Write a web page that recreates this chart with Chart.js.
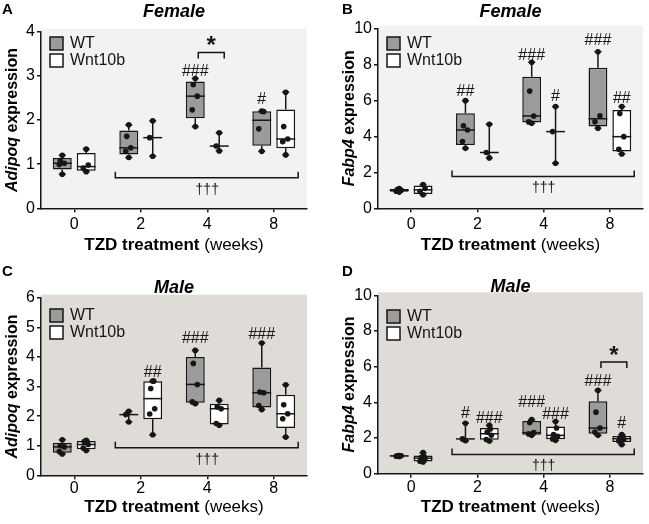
<!DOCTYPE html>
<html>
<head>
<meta charset="utf-8">
<script src="https://cdn.jsdelivr.net/npm/chart.js@4.4.1/dist/chart.umd.min.js"></script>
<style>
  body { margin: 0; background: #fff; }
  #wrap { position: relative; width: 649px; height: 524px; }
  canvas { position: absolute; }
</style>
</head>
<body>
<div id="wrap">
  <canvas id="chartA" width="324" height="262" style="left:0;top:0"></canvas>
  <canvas id="chartB" width="324" height="262" style="left:325px;top:0"></canvas>
  <canvas id="chartC" width="324" height="262" style="left:0;top:262px"></canvas>
  <canvas id="chartD" width="324" height="262" style="left:325px;top:262px"></canvas>
</div>
<script>
// weeks of TZD treatment (x categories)
const weeks = ['0', '2', '4', '8'];
const seriesNames = ['WT', 'Wnt10b'];

// A - Adipoq, female (individual animals per week)
const adipoqFemaleWT = [
  [0.77, 0.99, 1.02, 1.08, 1.2],
  [1.15, 1.29, 1.37, 1.63, 1.89],
  [1.85, 2.23, 2.54, 2.8, 2.94],
  [1.29, 1.8, 2.19, 2.2]
];
const adipoqFemaleWnt = [
  [0.83, 0.91, 0.98, 1.34],
  [1.18, 1.6, 1.98],
  [1.3, 1.41, 1.71],
  [1.21, 1.51, 1.57, 1.85, 2.63]
];
// "#" marks vs week 0 and the level (y value) they sit at
const adipoqFemaleWTMarks = ['', '', '###', '#'];
const adipoqFemaleWTMarkY = [0, 0, 3.13, 2.49];
const adipoqFemaleWntMarks = ['', '', '', ''];
const adipoqFemaleWntMarkY = [0, 0, 0, 0];

// B - Fabp4, female
const fabp4FemaleWT = [
  [0.9, 0.95, 1.0, 1.04, 1.1],
  [3.33, 3.71, 4.35, 4.58, 5.98],
  [4.72, 4.8, 5.13, 6.51, 8.11],
  [4.45, 4.81, 5.14, 8.7]
];
const fabp4FemaleWnt = [
  [0.75, 0.95, 1.1, 1.32],
  [2.8, 3.1, 4.67],
  [2.5, 4.26, 5.65],
  [3.02, 3.28, 3.98, 5.27, 5.65]
];
const fabp4FemaleWTMarks = ['', '##', '###', '###'];
const fabp4FemaleWTMarkY = [0, 6.55, 8.6, 9.4];
const fabp4FemaleWntMarks = ['', '', '#', '##'];
const fabp4FemaleWntMarkY = [0, 0, 6.3, 6.2];

// C - Adipoq, male
const adipoqMaleWT = [
  [0.72, 0.8, 0.96, 1.0, 1.2],
  [1.8, 2.05, 2.16],
  [2.42, 2.48, 3.07, 3.78, 4.22],
  [2.22, 2.36, 2.79, 2.81, 4.47]
];
const adipoqMaleWnt = [
  [0.84, 0.92, 1.04, 1.14, 1.18],
  [1.37, 2.07, 2.25, 2.93, 3.18, 3.18],
  [1.69, 1.75, 2.25, 2.31, 2.53],
  [1.29, 1.91, 2.08, 2.38, 3.06]
];
const adipoqMaleWTMarks = ['', '', '###', '###'];
const adipoqMaleWTMarkY = [0, 0, 4.66, 4.8];
const adipoqMaleWntMarks = ['', '##', '', ''];
const adipoqMaleWntMarkY = [0, 3.54, 0, 0];

// D - Fabp4, male
const fabp4MaleWT = [
  [0.96, 0.98, 1.0, 1.0, 1.02],
  [1.85, 1.95, 2.83],
  [2.15, 2.23, 2.3, 2.87, 3.03],
  [2.15, 2.33, 2.56, 3.45, 4.67]
];
const fabp4MaleWnt = [
  [0.66, 0.7, 0.84, 0.9, 0.96, 1.18],
  [1.83, 1.92, 2.15, 2.33, 2.51, 2.71],
  [1.87, 1.95, 2.1, 2.2, 2.56, 2.93],
  [1.63, 1.83, 1.92, 2.0, 2.08, 2.19]
];
const fabp4MaleWTMarks = ['', '#', '###', '###'];
const fabp4MaleWTMarkY = [0, 3.47, 4.08, 5.26];
const fabp4MaleWntMarks = ['', '###', '###', '#'];
const fabp4MaleWntMarkY = [0, 3.2, 3.43, 2.87];

const FONT = 'Arial, "Liberation Sans", sans-serif';
const INK = '#161616';
const WT_FILL = '#9b9b9b';
const WNT_FILL = '#ffffff';
const FEMALE_BG = '#f3f1f1';
const MALE_BG = '#dfdbd7';

// quartiles the (n+1)p way, like the original software
function boxStats(pts) {
  const s = [...pts].sort((a, b) => a - b);
  const n = s.length;
  const at = p => {
    const pos = (n + 1) * p - 1;
    const lo = Math.floor(pos);
    const hi = Math.min(lo + 1, n - 1);
    return s[lo] + (pos - lo) * (s[hi] - s[lo]);
  };
  const med = n % 2 ? s[(n - 1) / 2] : (s[n / 2 - 1] + s[n / 2]) / 2;
  return { s, n, min: s[0], max: s[n - 1], q1: at(0.25), q3: at(0.75), med };
}

const panels = [
  { id: 'chartA', letter: 'A', title: 'Female', gene: 'Adipoq', wt: adipoqFemaleWT, wnt: adipoqFemaleWnt,
    marks: [[adipoqFemaleWTMarks, adipoqFemaleWTMarkY], [adipoqFemaleWntMarks, adipoqFemaleWntMarkY]],
    yMax: 4, yStep: 1, bg: FEMALE_BG,
    area: { left: 41, right: 307, top: 31.7, bottom: 208.3 }, titleY: 12, legendTop: 37, xPad: 3,
    star: { index: 2, level: 3.53 }, daggerLevel: 0.69 },
  { id: 'chartB', letter: 'B', title: 'Female', gene: 'Fabp4', wt: fabp4FemaleWT, wnt: fabp4FemaleWnt,
    marks: [[fabp4FemaleWTMarks, fabp4FemaleWTMarkY], [fabp4FemaleWntMarks, fabp4FemaleWntMarkY]],
    yMax: 10, yStep: 2, bg: FEMALE_BG,
    area: { left: 53, right: 318, top: 28.3, bottom: 208.3 }, titleY: 12, legendTop: 37, xPad: 3,
    star: null, daggerLevel: 1.76 },
  { id: 'chartC', letter: 'C', title: 'Male', gene: 'Adipoq', wt: adipoqMaleWT, wnt: adipoqMaleWnt,
    marks: [[adipoqMaleWTMarks, adipoqMaleWTMarkY], [adipoqMaleWntMarks, adipoqMaleWntMarkY]],
    yMax: 6, yStep: 1, bg: MALE_BG,
    area: { left: 41, right: 307, top: 35.7, bottom: 213.3 }, titleY: 26, legendTop: 47, xPad: 0,
    star: null, daggerLevel: 0.93 },
  { id: 'chartD', letter: 'D', title: 'Male', gene: 'Fabp4', wt: fabp4MaleWT, wnt: fabp4MaleWnt,
    marks: [[fabp4MaleWTMarks, fabp4MaleWTMarkY], [fabp4MaleWntMarks, fabp4MaleWntMarkY]],
    yMax: 10, yStep: 2, bg: MALE_BG,
    area: { left: 53, right: 318, top: 33.3, bottom: 211.7 }, titleY: 25, legendTop: 48, xPad: 0,
    star: { index: 3, level: 6.26 }, daggerLevel: 1.07 }
];

const jitter = [3, -3, 2, -2, 1];

function line(ctx, x1, y1, x2, y2) {
  ctx.beginPath();
  ctx.moveTo(x1, y1);
  ctx.lineTo(x2, y2);
  ctx.stroke();
}

function makePanel(p) {
  const canvas = document.getElementById(p.id);
  const W = canvas.width, H = canvas.height;
  const stats = [p.wt.map(boxStats), p.wnt.map(boxStats)];

  const boxPlugin = {
    id: 'boxExtras',
    beforeDraw(chart) {
      const { ctx, chartArea: a } = chart;
      ctx.save();
      ctx.fillStyle = '#fff';
      ctx.fillRect(0, 0, W, H);
      ctx.fillStyle = p.bg;
      ctx.fillRect(a.left, a.top - 3, a.right - a.left, a.bottom - a.top + 3);
      ctx.restore();
    },
    afterDatasetsDraw(chart) {
      const { ctx, chartArea: a } = chart;
      const y = chart.scales.y;
      ctx.save();
      ctx.strokeStyle = INK;
      ctx.fillStyle = INK;
      ctx.lineWidth = 1.5;

      stats.forEach((group, di) => {
        const meta = chart.getDatasetMeta(di);
        const [labels, levels] = p.marks[di];
        group.forEach((st, i) => {
          const bar = meta.data[i];
          const x = bar.x, half = bar.width / 2;
          const yMax = y.getPixelForValue(st.max), yMin = y.getPixelForValue(st.min);
          const yMed = y.getPixelForValue(st.med);
          if (st.n < 4) {
            line(ctx, x, yMax, x, yMin);
          } else {
            line(ctx, x, yMax, x, y.getPixelForValue(st.q3));
            line(ctx, x, y.getPixelForValue(st.q1), x, yMin);
          }
          line(ctx, x - 3.5, yMax, x + 3.5, yMax);
          line(ctx, x - 3.5, yMin, x + 3.5, yMin);
          line(ctx, x - half, yMed, x + half, yMed);

          st.s.forEach((v, k) => {
            const dx = (k === 0 || k === st.n - 1) ? 0 : jitter[k % jitter.length];
            ctx.beginPath();
            ctx.arc(x + dx, y.getPixelForValue(v), 2.8, 0, Math.PI * 2);
            ctx.fill();
          });

          if (labels[i]) {
            ctx.font = '16px ' + FONT;
            ctx.textAlign = 'center';
            ctx.textBaseline = 'alphabetic';
            ctx.fillText(labels[i], x, y.getPixelForValue(levels[i]) + 6);
          }
        });
      });

      // significance bracket WT vs Wnt10b
      if (p.star) {
        const b0 = chart.getDatasetMeta(0).data[p.star.index];
        const b1 = chart.getDatasetMeta(1).data[p.star.index];
        const yb = y.getPixelForValue(p.star.level);
        const x0 = b0.x + 3, x1 = b1.x + 5;
        ctx.beginPath();
        ctx.moveTo(x0, yb + 6);
        ctx.lineTo(x0, yb);
        ctx.lineTo(x1, yb);
        ctx.lineTo(x1, yb + 6);
        ctx.stroke();
        ctx.font = 'bold 24px ' + FONT;
        ctx.textAlign = 'center';
        ctx.textBaseline = 'middle';
        ctx.fillText('*', (x0 + x1) / 2, yb - 6);
      }

      // bracket over weeks 2-8 vs week 0
      const first = chart.getDatasetMeta(0).data[1];
      const last = chart.getDatasetMeta(1).data[3];
      const yd = y.getPixelForValue(p.daggerLevel);
      const xl = first.x - first.width / 2 - 4, xr = last.x + last.width / 2 + 3;
      ctx.beginPath();
      ctx.moveTo(xl, yd - 6);
      ctx.lineTo(xl, yd);
      ctx.lineTo(xr, yd);
      ctx.lineTo(xr, yd - 6);
      ctx.stroke();
      ctx.font = '14px ' + FONT;
      ctx.textAlign = 'center';
      ctx.textBaseline = 'middle';
      ctx.fillText('\u2020\u2020\u2020', chart.scales.x.getPixelForValue(2), yd + 12);

      // legend
      const lx = a.left + 9;
      [WT_FILL, WNT_FILL].forEach((fill, k) => {
        const ty = p.legendTop + k * 17;
        ctx.fillStyle = fill;
        ctx.fillRect(lx, ty, 13, 13);
        ctx.strokeRect(lx, ty, 13, 13);
        ctx.fillStyle = INK;
        ctx.font = '16px ' + FONT;
        ctx.textAlign = 'left';
        ctx.textBaseline = 'middle';
        ctx.fillText(seriesNames[k], lx + 20, ty + 7);
      });
      ctx.restore();
    },
    afterDraw(chart) {
      const { ctx, chartArea: a } = chart;
      const cx = (a.left + a.right) / 2;
      ctx.save();
      ctx.fillStyle = '#000';
      ctx.textBaseline = 'middle';

      // panel letter
      ctx.font = 'bold 15px ' + FONT;
      ctx.textAlign = 'left';
      ctx.fillText(p.letter, a.left < 45 ? 2 : 17, 10);

      // title
      ctx.font = 'italic bold 18px ' + FONT;
      ctx.textAlign = 'center';
      ctx.fillText(p.title, cx, p.titleY);

      // x axis title: bold part + regular part
      const bold = 'TZD treatment', reg = ' (weeks)';
      ctx.font = 'bold 17px ' + FONT;
      const wb = ctx.measureText(bold).width;
      ctx.font = '17px ' + FONT;
      const wr = ctx.measureText(reg).width;
      const sx = cx - (wb + wr) / 2;
      ctx.textAlign = 'left';
      ctx.font = 'bold 17px ' + FONT;
      ctx.fillText(bold, sx, 245);
      ctx.font = '17px ' + FONT;
      ctx.fillText(reg, sx + wb, 245);

      // y axis title: italic gene + "expression"
      const gene = p.gene, rest = ' expression';
      ctx.translate(a.left - 28, (a.top + a.bottom) / 2);
      ctx.rotate(-Math.PI / 2);
      ctx.font = 'italic bold 16px ' + FONT;
      const wg = ctx.measureText(gene).width;
      ctx.font = 'bold 16px ' + FONT;
      const we = ctx.measureText(rest).width;
      const s0 = -(wg + we) / 2;
      ctx.font = 'italic bold 16px ' + FONT;
      ctx.fillText(gene, s0, 0);
      ctx.font = 'bold 16px ' + FONT;
      ctx.fillText(rest, s0 + wg, 0);
      ctx.restore();
    }
  };

  const dataset = (k, fill) => ({
    label: seriesNames[k],
    data: stats[k].map(st => st.n < 4 ? [st.med, st.med] : [st.q1, st.q3]),
    backgroundColor: fill,
    borderColor: INK,
    borderWidth: ctx => (stats[k][ctx.dataIndex].n < 4 ? 0 : 1.5),
    borderSkipped: false,
    categoryPercentage: 0.72,
    barPercentage: 0.79
  });

  return new Chart(canvas, {
    type: 'bar',
    data: {
      labels: weeks,
      datasets: [dataset(0, WT_FILL), dataset(1, WNT_FILL)]
    },
    options: {
      responsive: false,
      animation: false,
      events: [],
      layout: { padding: { top: p.area.top, right: W - p.area.right, left: 0, bottom: 0 } },
      plugins: { legend: { display: false }, tooltip: { enabled: false } },
      scales: {
        x: {
          grid: { drawOnChartArea: false, offset: false, tickLength: 4, color: INK, lineWidth: 1.5 },
          border: { color: INK, width: 1.5 },
          ticks: { color: '#000', font: { family: FONT, size: 16 }, padding: p.xPad },
          afterFit: s => { s.height = H - p.area.bottom; }
        },
        y: {
          min: 0,
          max: p.yMax,
          grid: { drawOnChartArea: false, tickLength: 4, color: INK, lineWidth: 1.5 },
          border: { color: INK, width: 1.5 },
          ticks: { stepSize: p.yStep, color: '#000', font: { family: FONT, size: 16 }, padding: 2 },
          afterFit: s => { s.width = p.area.left; }
        }
      }
    },
    plugins: [boxPlugin]
  });
}

panels.forEach(makePanel);
</script>
</body>
</html>
